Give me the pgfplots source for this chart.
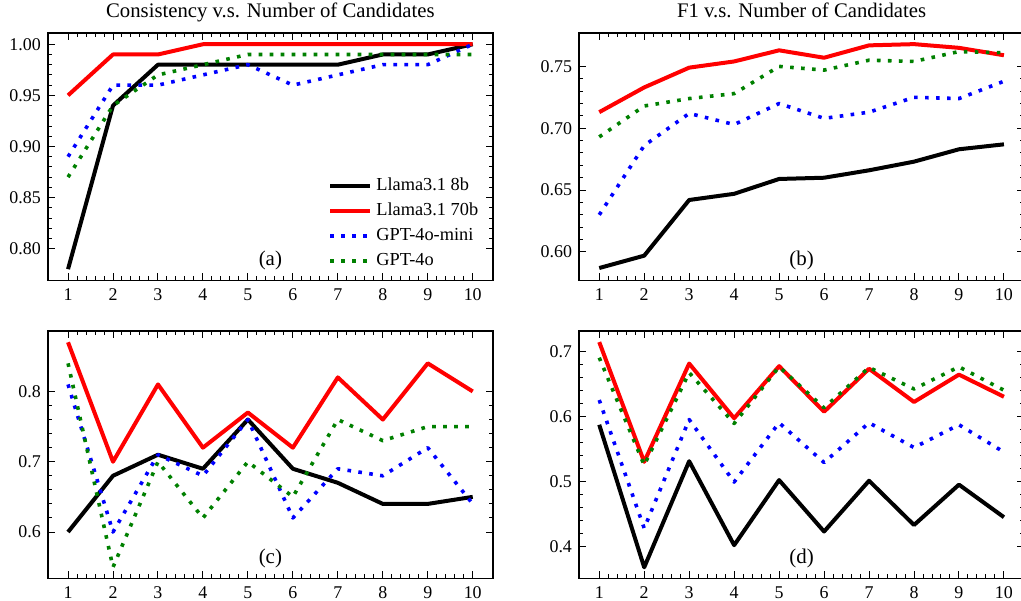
\documentclass[border=0pt]{standalone}
\usepackage{fontspec}
\setmainfont{Liberation Serif}
\usepackage{pgfplots}
\pgfplotsset{compat=1.18}
\usepackage{pgfplotstable}

\definecolor{mplgreen}{rgb}{0,0.5,0}

% consistency (a)
\pgfplotstableread{
n  l8   l70  mini g4o
1  0.78 0.95 0.89 0.87
2  0.94 0.99 0.96 0.94
3  0.98 0.99 0.96 0.97
4  0.98 1.00 0.97 0.98
5  0.98 1.00 0.98 0.99
6  0.98 1.00 0.96 0.99
7  0.98 1.00 0.97 0.99
8  0.99 1.00 0.98 0.99
9  0.99 1.00 0.98 0.99
10 1.00 1.00 1.00 0.99
}\tabA

% F1 (b)
\pgfplotstableread{
n  l8    l70   mini  g4o
1  0.587 0.713 0.630 0.693
2  0.597 0.733 0.686 0.718
3  0.642 0.749 0.712 0.724
4  0.647 0.754 0.703 0.728
5  0.659 0.763 0.720 0.750
6  0.660 0.757 0.708 0.747
7  0.666 0.767 0.713 0.755
8  0.673 0.768 0.725 0.754
9  0.683 0.765 0.724 0.762
10 0.687 0.759 0.738 0.761
}\tabB

% consistency (c)
\pgfplotstableread{
n  l8   l70  mini g4o
1  0.60 0.87 0.81 0.84
2  0.68 0.70 0.60 0.55
3  0.71 0.81 0.71 0.70
4  0.69 0.72 0.68 0.62
5  0.76 0.77 0.76 0.70
6  0.69 0.72 0.62 0.65
7  0.67 0.82 0.69 0.76
8  0.64 0.76 0.68 0.73
9  0.64 0.84 0.72 0.75
10 0.65 0.80 0.64 0.75
}\tabC

% F1 (d)
\pgfplotstableread{
n  l8    l70   mini  g4o
1  0.587 0.714 0.625 0.690
2  0.368 0.530 0.428 0.525
3  0.531 0.681 0.595 0.667
4  0.402 0.597 0.499 0.589
5  0.502 0.677 0.590 0.676
6  0.423 0.607 0.529 0.613
7  0.501 0.673 0.590 0.675
8  0.433 0.622 0.552 0.642
9  0.495 0.664 0.587 0.676
10 0.445 0.630 0.545 0.640
}\tabD

\pgfplotsset{
  panel/.style={
    scale only axis, width=222.6bp, height=123.7bp,
    xmin=0.55, xmax=10.45, xtick={1,...,10},
    minor x tick num=4, minor y tick num=4,
    tick align=inside, major tick length=3.5bp, minor tick length=2bp,
    tick style={black, line width=0.5bp},
    axis line style={line width=0.7bp},
    font=\fontsize{9}{10}\selectfont,
    /pgf/number format/assume math mode=true,
    xticklabel style={yshift=-0.8bp},
    every axis plot/.append style={line join=round},
  },
  s8/.style={black, line width=2bp},
  s70/.style={red, line width=2bp},
  smini/.style={blue, line width=1.8bp, dash pattern=on 1.8bp off 3.7bp},
  s4o/.style={mplgreen, line width=1.8bp, dash pattern=on 1.8bp off 3.7bp},
}
\tikzset{
  lab/.style={font=\fontsize{10.5}{11}\selectfont},
  ttl/.style={anchor=base, font=\fontsize{10.4}{11}\selectfont},
}

\begin{document}
\begin{tikzpicture}
\useasboundingbox (0,0) rectangle (510.5bp,-300.5bp);

\begin{axis}[panel, name=pa, at={(23.9bp,-16.5bp)}, anchor=north west,
  ymin=0.769, ymax=1.011, ytick={0.80,0.85,0.90,0.95,1.00},
  yticklabel style={/pgf/number format/.cd, fixed, fixed zerofill, precision=2},
  legend image code/.code={\draw[#1] (0bp,0bp) -- (20bp,0bp);},
  legend style={draw=none, fill=none, at={(0.99,0.015)}, anchor=south east,
    row sep=0.8bp, font=\fontsize{9.2}{10}\selectfont},
  legend cell align=left]
\addplot[s8] table[x=n, y=l8] {\tabA};
\addlegendentry{Llama3.1 8b}
\addplot[s70] table[x=n, y=l70] {\tabA};
\addlegendentry{Llama3.1 70b}
\addplot[smini] table[x=n, y=mini] {\tabA};
\addlegendentry{GPT-4o-mini}
\addplot[s4o] table[x=n, y=g4o] {\tabA};
\addlegendentry{GPT-4o}
\end{axis}
\node[lab] at ([yshift=10bp]pa.south) {(a)};
\node[ttl] at ([yshift=7.9bp]pa.north) {Consistency v.s. Number of Candidates};

\begin{axis}[panel, name=pb, at={(289.5bp,-16.5bp)}, anchor=north west,
  ymin=0.577, ymax=0.777, ytick={0.60,0.65,0.70,0.75},
  yticklabel style={/pgf/number format/.cd, fixed, fixed zerofill, precision=2}]
\addplot[s8] table[x=n, y=l8] {\tabB};
\addplot[s70] table[x=n, y=l70] {\tabB};
\addplot[smini] table[x=n, y=mini] {\tabB};
\addplot[s4o] table[x=n, y=g4o] {\tabB};
\end{axis}
\node[lab] at ([yshift=10bp]pb.south) {(b)};
\node[ttl] at ([yshift=7.9bp]pb.north) {F1 v.s. Number of Candidates};

\begin{axis}[panel, name=pc, at={(23.9bp,-165.5bp)}, anchor=north west,
  ymin=0.534, ymax=0.886, ytick={0.6,0.7,0.8},
  yticklabel style={/pgf/number format/.cd, fixed, fixed zerofill, precision=1}]
\addplot[s8] table[x=n, y=l8] {\tabC};
\addplot[s70] table[x=n, y=l70] {\tabC};
\addplot[smini] table[x=n, y=mini] {\tabC};
\addplot[s4o] table[x=n, y=g4o] {\tabC};
\end{axis}
\node[lab] at ([yshift=10bp]pc.south) {(c)};

\begin{axis}[panel, name=pd, at={(289.5bp,-165.5bp)}, anchor=north west,
  ymin=0.351, ymax=0.731, ytick={0.4,0.5,0.6,0.7},
  yticklabel style={/pgf/number format/.cd, fixed, fixed zerofill, precision=1}]
\addplot[s8] table[x=n, y=l8] {\tabD};
\addplot[s70] table[x=n, y=l70] {\tabD};
\addplot[smini] table[x=n, y=mini] {\tabD};
\addplot[s4o] table[x=n, y=g4o] {\tabD};
\end{axis}
\node[lab] at ([yshift=10bp]pd.south) {(d)};
\end{tikzpicture}
\end{document}
